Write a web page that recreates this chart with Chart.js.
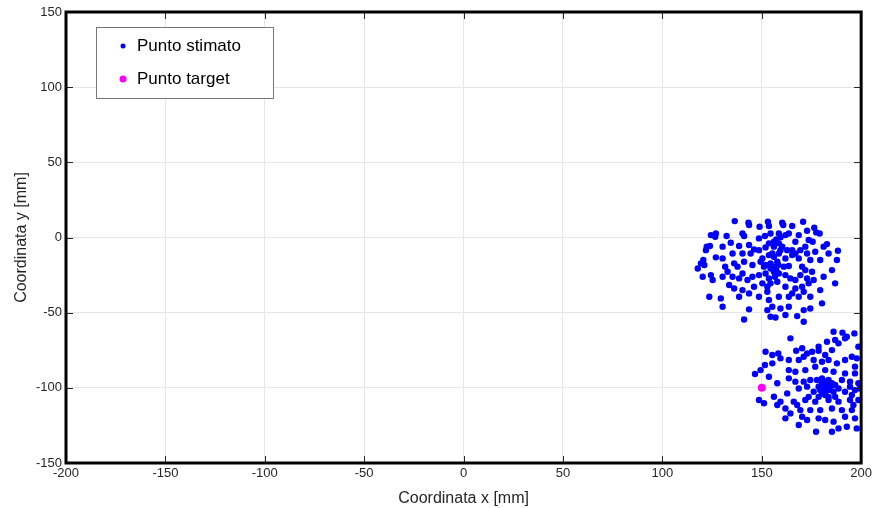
<!DOCTYPE html>
<html lang="it">
<head>
    <meta charset="UTF-8">
    <title>Punto stimato vs target</title>
    <style>
        body {
            margin: 0;
            padding: 0;
            background: #fff;
        }
        #wrap {
            width: 875px;
            height: 508px;
        }
    </style>
</head>
<body>
    <div id="wrap"><canvas id="plot" width="875" height="508"></canvas></div>

    <script src="https://cdn.jsdelivr.net/npm/chart.js"></script>
    <script>
        // estimated points (mm)
        const estX = [
            136.4, 143.3, 143.6, 148.9, 153.1, 153.6, 160.3, 160.8, 165.3, 170.8, 172.8, 176.4, 177.4, 179.1,
            124.4, 126.9, 126.6, 132.3, 140.3, 141.1, 148.6, 151.6, 154.4, 158.6, 157.3, 159.4, 161.9, 163.6,
            168.6, 166.9, 173.6, 175.6, 181.1, 182.8, 188.3, 187.8, 183.6, 122.3, 123.9, 121.9, 130.3, 134.4,
            138.6, 143.6, 146.1, 151.9, 153.6, 156.1, 158.6, 160.3, 162.8, 165.3, 166.9, 169.4, 171.9, 172.8,
            176.9, 120.6, 119.4, 117.8, 121.1, 126.9, 130.3, 135.3, 140.3, 144.4, 148.6, 150.3, 153.6, 156.1,
            158.6, 161.9, 165.3, 168.6, 174.4, 179.4, 131.6, 136.1, 137.8, 141.1, 145.3, 149.4, 151.9, 154.4,
            156.1, 158.3, 161.1, 163.6, 170.3, 171.9, 175.3, 181.1, 185.3, 186.9, 124.4, 125.3, 120.3, 130.3,
            132.8, 135.3, 138.6, 140.3, 142.8, 145.3, 148.6, 151.9, 153.6, 156.1, 158.6, 161.9, 164.4, 166.9,
            169.4, 172.8, 176.1, 133.6, 136.1, 140.3, 146.1, 150.3, 152.8, 154.4, 157.8, 161.9, 166.9, 170.3,
            173.6, 179.4, 123.6, 129.4, 130.3, 138.6, 143.6, 148.6, 152.8, 153.6, 158.6, 163.6, 165.3, 168.6,
            171.1, 174.4, 155.3, 159.4, 163.6, 152.8, 143.6, 154.4, 156.9, 161.9, 167.8, 171.1, 174.4, 180.3,
            141.1, 171.1, 156.1, 157.8, 154.4, 156.6, 151.1, 159.4, 155.3, 157.3,
            164.4, 186.1, 190.6, 192.8, 196.6, 182.8, 186.9, 188.6, 191.9, 198.6, 151.9, 155.3, 158.3, 167.3,
            170.3, 172.8, 175.3, 178.6, 181.9, 185.3, 178.6, 151.6, 155.3, 159.4, 163.6, 168.6, 171.1, 176.1,
            180.3, 183.6, 187.8, 191.9, 195.3, 197.8, 146.6, 149.4, 153.6, 163.6, 166.9, 171.9, 176.9, 181.9,
            186.1, 191.9, 196.9, 163.6, 166.9, 171.1, 174.4, 177.8, 180.3, 181.9, 183.6, 185.3, 186.9, 190.3,
            194.4, 198.6, 157.8, 168.6, 172.8, 178.6, 181.1, 183.6, 184.4, 186.1, 188.6, 191.9, 196.9, 199.4,
            148.6, 151.1, 156.1, 159.4, 162.8, 166.1, 171.9, 176.9, 183.6, 188.6, 194.4, 198.6, 157.8, 161.9,
            164.4, 169.4, 174.4, 179.4, 185.3, 190.3, 170.3, 172.8, 178.6, 181.9, 186.1, 188.6, 196.9, 197.8,
            168.6, 177.3, 185.3, 192.8, 161.9, 167.8, 176.1, 180.3, 178.6, 181.9, 183.6, 186.9, 173.6, 195.3,
            194.4, 196.9, 196.1, 191.9, 195.3, 180.3, 182.8, 184.4, 181.9, 179.4
        ];
        const estY = [
            10.9, 9.8, 8.3, 7.2, 10.5, 7.6, 9.8, 8.3, 7.6, 10.5, 4.5, 6.5, 3.4, 2.7,
            1.6, 2.7, 0.5, 1.0, 2.7, 1.0, -0.6, 1.0, 2.7, 2.7, -1.3, 0.1, 1.6, 2.7,
            1.6, -2.8, -1.7, -2.8, -6.1, -4.4, -8.8, -15.0, -10.6, -6.1, -5.7, -8.4, -6.1, -3.5,
            -5.7, -5.0, -7.9, -6.6, -3.9, -2.8, -3.9, -6.1, -8.4, -8.4, -10.6, -8.4, -6.1, -10.6,
            -9.5, -15.0, -17.2, -20.6, -18.3, -13.2, -13.9, -10.6, -10.6, -10.6, -8.4, -13.9, -11.7, -12.8,
            -10.6, -13.9, -11.7, -13.9, -15.0, -15.0, -19.4, -17.2, -19.4, -16.1, -18.3, -16.1, -18.3, -17.2,
            -19.4, -18.3, -19.4, -19.0, -19.4, -21.7, -22.8, -26.1, -21.7, -30.5, -25.0, -28.3, -26.1, -26.1,
            -22.8, -26.1, -27.2, -23.9, -28.3, -26.1, -25.0, -23.9, -27.2, -22.8, -23.9, -25.0, -27.2, -28.3,
            -25.0, -27.2, -28.3, -31.6, -33.9, -35.0, -32.8, -30.5, -32.8, -30.5, -29.4, -32.8, -33.9, -32.8,
            -30.5, -35.0, -39.4, -40.5, -46.1, -39.4, -37.2, -39.4, -36.1, -41.6, -39.4, -39.4, -37.2, -39.4,
            -36.1, -39.4, -46.1, -47.2, -46.1, -48.3, -47.8, -52.7, -53.2, -51.6, -52.3, -48.3, -47.2, -43.8,
            -54.5, -56.0, -6.1, -16.1, -20.6, -26.1, -19.4, -8.4, -10.6, -21.7,
            -67.1, -62.7, -63.3, -66.0, -63.8, -69.3, -68.2, -70.4, -67.1, -72.6, -76.0, -78.2, -77.1, -75.3,
            -73.7, -77.1, -76.0, -75.3, -78.2, -74.9, -72.6, -84.8, -83.7, -80.4, -81.5, -81.5, -79.3, -81.5,
            -82.6, -81.5, -83.7, -81.5, -79.3, -80.4, -90.8, -88.2, -92.6, -88.2, -89.3, -88.2, -85.9, -88.2,
            -89.3, -90.4, -90.4, -93.7, -95.9, -95.9, -94.8, -94.8, -93.7, -95.9, -94.8, -97.0, -98.1, -94.8,
            -95.9, -97.0, -97.0, -100.4, -99.2, -99.2, -100.4, -101.5, -100.4, -102.6, -100.4, -102.6, -101.5, -100.4,
            -108.1, -110.3, -105.9, -109.2, -103.7, -109.2, -108.1, -109.2, -108.1, -109.2, -108.1, -108.1, -111.4, -113.7,
            -117.0, -114.8, -114.8, -114.8, -113.7, -114.8, -119.2, -121.4, -120.3, -121.4, -122.5, -127.0, -120.3, -127.0,
            -124.7, -129.2, -129.2, -125.9, -120.3, -111.4, -102.6, -103.7, -106.0, -104.8, -106.0, -106.0, -106.0, -104.8,
            -99.2, -85.9, -111.4, -119.2, -114.8, -97.0, -98.1, -98.1, -102.6, -101.5
        ];
        const targetX = [150];
        const targetY = [-100];

        const seriesLabels = ['Punto stimato', 'Punto target'];
        const xTicks = [-200, -150, -100, -50, 0, 50, 100, 150, 200];
        const yTicks = [-150, -100, -50, 0, 50, 100, 150];

        const font = 'Liberation Sans, Arial, sans-serif';

        const pairs = (xs, ys) => xs.map((x, i) => ({ x: x, y: ys[i] }));

        // thick frame + inward tick marks, like the original figure
        const framePlugin = {
            id: 'frame',
            afterDatasetsDraw(chart) {
                const { ctx, chartArea: a, scales } = chart;
                ctx.save();
                ctx.strokeStyle = '#262626';
                ctx.lineWidth = 1;
                ctx.beginPath();
                xTicks.forEach(v => {
                    const px = Math.round(scales.x.getPixelForValue(v)) + 0.5;
                    ctx.moveTo(px, a.bottom); ctx.lineTo(px, a.bottom - 7);
                    ctx.moveTo(px, a.top); ctx.lineTo(px, a.top + 7);
                });
                yTicks.forEach(v => {
                    const py = Math.round(scales.y.getPixelForValue(v)) + 0.5;
                    ctx.moveTo(a.left, py); ctx.lineTo(a.left + 7, py);
                    ctx.moveTo(a.right, py); ctx.lineTo(a.right - 7, py);
                });
                ctx.stroke();
                ctx.strokeStyle = '#000';
                ctx.lineWidth = 3;
                ctx.strokeRect(a.left, a.top, a.right - a.left, a.bottom - a.top);
                ctx.restore();
            },
            afterDraw(chart) {
                // legend box in the upper left of the axes
                const { ctx, chartArea: a } = chart;
                const ds = chart.data.datasets;
                const bx = a.left + 30, by = a.top + 15, bw = 177, bh = 71;
                ctx.save();
                ctx.fillStyle = '#fff';
                ctx.fillRect(bx, by, bw, bh);
                ctx.strokeStyle = '#777';
                ctx.lineWidth = 1;
                ctx.strokeRect(bx + 0.5, by + 0.5, bw, bh);
                ds.forEach((d, i) => {
                    const cy = by + 19 + i * 33;
                    ctx.fillStyle = d.backgroundColor;
                    ctx.beginPath();
                    ctx.arc(bx + 27, cy, i === 0 ? 2.5 : 3.5, 0, Math.PI * 2);
                    ctx.fill();
                    ctx.fillStyle = '#000';
                    ctx.font = '17px ' + font;
                    ctx.textBaseline = 'middle';
                    ctx.fillText(d.label, bx + 41, cy);
                });
                ctx.restore();
            }
        };

        new Chart(document.getElementById('plot'), {
            type: 'scatter',
            data: {
                datasets: [
                    {
                        label: seriesLabels[0],
                        data: pairs(estX, estY),
                        backgroundColor: '#0000ff',
                        borderColor: '#0000ff',
                        pointRadius: 3.2,
                        borderWidth: 0,
                        order: 1
                    },
                    {
                        label: seriesLabels[1],
                        data: pairs(targetX, targetY),
                        backgroundColor: '#ff00ff',
                        borderColor: '#ff00ff',
                        pointRadius: 4,
                        borderWidth: 0,
                        order: 0
                    }
                ]
            },
            options: {
                responsive: false,
                animation: false,
                layout: { padding: { top: 12, right: 13, left: 0, bottom: 0 } },
                plugins: {
                    legend: { display: false },
                    tooltip: { enabled: false }
                },
                scales: {
                    x: {
                        type: 'linear',
                        min: -200,
                        max: 200,
                        afterBuildTicks: s => { s.ticks = xTicks.map(v => ({ value: v })); },
                        afterFit: s => { s.height = 45; },
                        grid: { color: '#e6e6e6', drawTicks: false },
                        border: { display: false },
                        ticks: { color: '#262626', font: { family: font, size: 13 }, padding: 3, maxRotation: 0 },
                        title: {
                            display: true,
                            text: 'Coordinata x [mm]',
                            color: '#262626',
                            font: { family: font, size: 16 },
                            padding: { top: 2, bottom: 0 }
                        }
                    },
                    y: {
                        type: 'linear',
                        min: -150,
                        max: 150,
                        afterBuildTicks: s => { s.ticks = yTicks.map(v => ({ value: v })); },
                        afterFit: s => { s.width = 66; },
                        grid: { color: '#e6e6e6', drawTicks: false },
                        border: { display: false },
                        ticks: { color: '#262626', font: { family: font, size: 13 }, padding: 4 },
                        title: {
                            display: true,
                            text: 'Coordinata y [mm]',
                            color: '#262626',
                            font: { family: font, size: 16 },
                            padding: { top: 12, bottom: 4 }
                        }
                    }
                }
            },
            plugins: [framePlugin]
        });
    </script>
</body>
</html>
